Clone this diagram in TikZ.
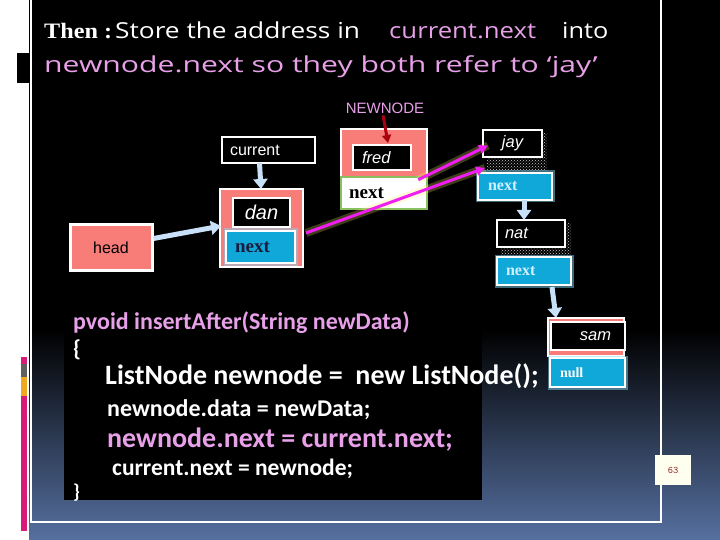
\documentclass[tikz,border=0pt]{standalone}
\usepackage{fontspec}
\usepackage{graphicx}
\setmainfont{Liberation Serif}
\newfontfamily\arialf{Liberation Sans}
\newfontfamily\calib{Carlito}
\newfontfamily\handf{Open Sans}
\usetikzlibrary{arrows.meta,patterns,calc}
\definecolor{salmonc}{RGB}{248,124,120}
\definecolor{cyanc}{RGB}{16,168,216}
\definecolor{lpink}{RGB}{232,160,232}
\definecolor{arrowblue}{RGB}{200,224,248}
\definecolor{magc}{RGB}{240,30,240}
\definecolor{darkredc}{RGB}{170,0,16}
\definecolor{bluebot}{RGB}{86,112,160}
\definecolor{greenc}{RGB}{136,192,96}
\definecolor{navyc}{RGB}{28,28,64}
\definecolor{barpink}{RGB}{216,27,120}
\definecolor{bargray}{RGB}{96,96,96}
\definecolor{barorange}{RGB}{240,168,32}
\definecolor{nexttxt}{RGB}{208,240,255}
\definecolor{creamc}{RGB}{255,255,240}
\definecolor{numred}{RGB}{144,32,32}
\tikzset{
  pinkbox/.style={fill=salmonc, draw=white, line width=1.5pt, inner sep=0pt, outer sep=0pt},
  blackbox/.style={fill=black, draw=white, line width=2.5pt, inner sep=0pt, outer sep=0pt, text=white},
  cyanbox/.style={fill=cyanc, draw=white, line width=2.5pt, inner sep=0pt, outer sep=0pt,
     preaction={draw=cyan!50, line width=5pt, opacity=0.5}},
  itallabel/.style={font=\arialf\itshape\fontsize{16.5}{18}\selectfont},
  nextbig/.style={font=\bfseries\fontsize{19}{20}\selectfont},
  nextsmall/.style={font=\bfseries\fontsize{16}{18}\selectfont, text=nexttxt},
  bluearrow/.style={draw=arrowblue, line width=5pt, -{Triangle[width=14pt,length=10pt]}},
  redarrow/.style={draw=darkredc, line width=3pt, -{Triangle[width=9pt,length=8pt]}},
  magarrow/.style={draw=magc, line width=3pt, -{Triangle[width=9pt,length=9pt]},
     preaction={draw=yellow!60!white, line width=8pt, opacity=0.25, -}},
  stipple/.style={pattern=crosshatch dots, pattern color=white!80!black},
  codeline/.style={anchor=base west, inner sep=0pt},
  titlefont/.style={font=\handf\fontsize{22}{24}\selectfont},
}
\begin{document}
\begin{tikzpicture}[x=1pt,y=-1pt]
\useasboundingbox (0,0) rectangle (720,540);
% background
\fill[white] (0,0) rectangle (720,540);
\fill[black] (29,0) rectangle (720,330);
\shade[top color=black, bottom color=bluebot] (29,329.5) rectangle (720,540);
\draw[white, line width=1.2pt] (31,-2) -- (31,522) -- (661,522) -- (661,-2);
\fill[black] (17,53) rectangle (29,83);
\fill[barpink] (20.5,357) rectangle (26.5,364);
\fill[bargray] (20.5,364) rectangle (26.5,377);
\fill[barorange] (20.5,377) rectangle (26.5,396);
\fill[barpink] (20.5,396) rectangle (26.5,531);
% code box
\fill[black] (64,295) rectangle (482,500);
% title
\node[codeline, text=white, font=\bfseries\fontsize{22}{24}\selectfont] (t1) at (44,39) {\scalebox{1.1}[1]{Then :}};
\node[codeline, text=white, titlefont] (t2) at (115,39) {\scalebox{1.195}[1]{Store the address in}};
\node[codeline, text=lpink, titlefont] (t3) at (389,39) {\scalebox{1.17}[1]{current.next}};
\node[codeline, text=white, titlefont] (t4) at (562,39) {\scalebox{1.15}[1]{into}};
\node[codeline, text=lpink, titlefont] (t5) at (44,73) {\scalebox{1.37}[1]{newnode.next so they both refer to ‘jay’}};
% code
\node[codeline, text=lpink, font=\calib\bfseries\fontsize{24}{26}\selectfont] (c1) at (73,329) {pvoid insertAfter(String newData)};
\node[codeline, text=white, font=\calib\bfseries\fontsize{23}{25}\selectfont] (c2) at (73,356) {\{};
\node[codeline, text=white, font=\calib\bfseries\fontsize{28}{30}\selectfont] (c3) at (105,384) {ListNode newnode =\ \ new ListNode();};
\node[codeline, text=white, font=\calib\bfseries\fontsize{24}{26}\selectfont] (c4) at (107,416) {newnode.data = newData;};
\node[codeline, text=lpink, font=\calib\bfseries\fontsize{28}{30}\selectfont] (c5) at (107,447) {newnode.next = current.next;};
\node[codeline, text=white, font=\calib\bfseries\fontsize{23.5}{26}\selectfont] (c6) at (112,475) {current.next = newnode;};
\node[codeline, text=white, font=\calib\bfseries\fontsize{20}{22}\selectfont] (c7) at (73,498) {\}};
% page number
\node[fill=creamc, minimum width=36, minimum height=30, inner sep=0pt, text=numred, font=\ttfamily\fontsize{10}{12}\selectfont] (pg) at (673,470) {63};
% NEWNODE label
\node[anchor=base, inner sep=1pt, text=lpink, font=\arialf\fontsize{15}{17}\selectfont] (nn) at (385,114) {NEWNODE};
% current
\node[blackbox, minimum width=93, minimum height=26, text width=77, inner xsep=8pt, align=left, font=\arialf\fontsize{16}{18}\selectfont] (cur) at (268.5,150) {current};
% dan
\node[pinkbox, minimum width=83, minimum height=78] (dan) at (261.5,228) {};
\node[blackbox, minimum width=57, minimum height=29, font=\arialf\itshape\fontsize{20}{22}\selectfont] (danin) at (261.5,212.5) {dan};
\node[cyanbox, minimum width=69, minimum height=32, text width=51, inner xsep=9pt, align=left, nextbig, text=navyc] (dannext) at (260.5,247) {next};
% head
\node[fill=salmonc, draw=white, line width=3pt, inner sep=0pt, minimum width=82, minimum height=45, font=\arialf\fontsize{16}{18}\selectfont] (head) at (111,247.5) {head};
% fred
\node[pinkbox, minimum width=86, minimum height=71] (fred) at (384,164.5) {};
\node[blackbox, minimum width=58, minimum height=25, text width=40, inner xsep=9pt, align=left, itallabel] (fredin) at (382,157.5) {fred};
\node[fill=white, draw=greenc, line width=2.5pt, inner sep=0pt, minimum width=86, minimum height=32, text width=70, inner xsep=8pt, align=left, nextbig, text=black] (frednext) at (384,193) {next};
% jay
\fill[stipple] (487,134) rectangle (547,171);
\node[blackbox, minimum width=59, minimum height=27, itallabel] (jay) at (512.5,143.5) {jay};
\node[cyanbox, minimum width=74, minimum height=27, text width=54, inner xsep=10pt, align=left, nextsmall] (jaynext) at (515,186.5) {next};
% nat
\fill[stipple] (501,223) rectangle (571,258);
\node[blackbox, minimum width=68, minimum height=27, text width=52, inner xsep=8pt, align=left, itallabel] (nat) at (531,233.5) {nat};
\node[cyanbox, minimum width=74, minimum height=28, text width=56, inner xsep=9pt, align=left, nextsmall] (natnext) at (534,271) {next};
% sam
\node[pinkbox, minimum width=76, minimum height=38] (sam) at (586,337) {};
\node[blackbox, minimum width=74, minimum height=28, text width=46, inner xsep=14pt, align=right, itallabel] (samin) at (588,336) {sam};
\node[cyanbox, minimum width=75, minimum height=29, text width=55, inner xsep=10pt, align=left, font=\bfseries\fontsize{14}{16}\selectfont, text=white] (null) at (587.5,372.5) {null};
% connectors
\draw[bluearrow] ([xshift=-9pt]cur.south) -- ([xshift=-0.5pt]dan.north);
\draw[bluearrow] ([yshift=9pt]head.east) -- ($(dan.west)+(1,-2)$);
\draw[bluearrow] ([xshift=9pt]jaynext.south) -- ([xshift=-7pt]nat.north);
\draw[bluearrow] ($(natnext.south east)+(-19,2)$) -- ($(sam.north)+(-30,0)$);
\draw[redarrow] ([xshift=-2pt]nn.south) -- ($(fredin.north)+(6,-2)$);
\draw[magarrow] ($(dan.east)+(3,5)$) -- ($(jaynext.north west)+(7,-5)$);
\draw[magarrow] ($(frednext.north east)+(-10,4)$) -- ($(jay.west)+(5,2)$);
\end{tikzpicture}
\end{document}
